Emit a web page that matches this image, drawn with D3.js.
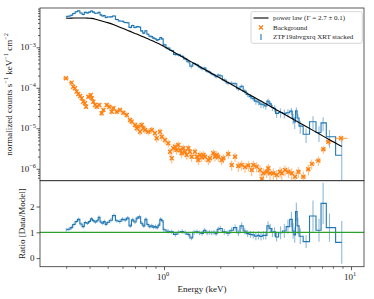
<!DOCTYPE html>
<html>
<head>
<meta charset="utf-8">
<script src="https://cdn.jsdelivr.net/npm/d3@7"></script>
<style>
  body { margin: 0; background: #fff; }
  text { font-family: "Liberation Serif", "DejaVu Serif", serif; fill: #222; }
</style>
</head>
<body>
<svg id="chart" width="374" height="299"></svg>
<script>
// Source spectrum: bin centres (keV), folded model per bin, data/model ratio and its error
const energy = [
  0.30, 0.31, 0.32, 0.33, 0.34, 0.35, 0.36, 0.37, 0.38, 0.39,
  0.40, 0.41, 0.42, 0.43, 0.44, 0.45, 0.46, 0.47, 0.48, 0.49,
  0.50, 0.52, 0.54, 0.56, 0.58, 0.60, 0.62, 0.64, 0.66, 0.68,
  0.70, 0.72, 0.74, 0.76, 0.78, 0.80, 0.82, 0.84, 0.86, 0.88,
  0.90, 0.92, 0.94, 0.96, 0.98, 1.00, 1.05, 1.10, 1.15, 1.20,
  1.25, 1.30, 1.35, 1.40, 1.45, 1.50, 1.55, 1.60, 1.65, 1.70,
  1.75, 1.80, 1.85, 1.90, 1.95, 2.00, 2.1, 2.2, 2.3, 2.4,
  2.5, 2.6, 2.7, 2.8, 2.9, 3.0, 3.1, 3.2, 3.3, 3.4,
  3.5, 3.6, 3.7, 3.8, 3.9, 4.0, 4.2, 4.4, 4.6, 4.8,
  4.9, 5.0, 5.1, 5.2, 5.35, 5.75, 6.26, 6.74, 7.09, 7.67,
  8.92
];
const model = [
  5.20e-3, 5.22e-3, 5.25e-3, 5.27e-3, 5.29e-3, 5.30e-3, 5.30e-3, 5.29e-3, 5.27e-3, 5.24e-3,
  5.20e-3, 5.16e-3, 5.09e-3, 4.93e-3, 4.79e-3, 4.65e-3, 4.52e-3, 4.40e-3, 4.28e-3, 4.17e-3,
  4.06e-3, 3.84e-3, 3.58e-3, 3.34e-3, 3.13e-3, 2.94e-3, 2.77e-3, 2.61e-3, 2.47e-3, 2.33e-3,
  2.20e-3, 2.09e-3, 1.98e-3, 1.88e-3, 1.79e-3, 1.70e-3, 1.62e-3, 1.54e-3, 1.47e-3, 1.40e-3,
  1.33e-3, 1.27e-3, 1.22e-3, 1.16e-3, 1.11e-3, 1.045e-3, 9.20e-4, 8.15e-4, 7.26e-4, 6.50e-4,
  5.85e-4, 5.28e-4, 4.79e-4, 4.36e-4, 3.97e-4, 3.64e-4, 3.34e-4, 3.08e-4, 2.84e-4, 2.63e-4,
  2.44e-4, 2.26e-4, 2.11e-4, 1.97e-4, 1.84e-4, 1.72e-4, 1.52e-4, 1.35e-4, 1.20e-4, 1.07e-4,
  9.64e-5, 8.71e-5, 7.89e-5, 7.18e-5, 6.56e-5, 6.01e-5, 5.51e-5, 5.08e-5, 4.69e-5, 4.34e-5,
  4.02e-5, 3.74e-5, 3.48e-5, 3.25e-5, 3.04e-5, 2.84e-5, 2.51e-5, 2.22e-5, 1.98e-5, 1.77e-5,
  1.68e-5, 1.59e-5, 1.51e-5, 1.44e-5, 1.33e-5, 1.11e-5, 8.87e-6, 7.31e-6, 6.41e-6, 5.22e-6,
  3.53e-6
];
const ratio = [
  1.10, 1.12, 1.18, 1.30, 1.42, 1.50, 1.32, 1.22, 1.38, 1.35,
  1.42, 1.52, 1.45, 1.40, 1.45, 1.58, 1.40, 1.35, 1.42, 1.30,
  1.38, 1.47, 1.65, 1.45, 1.42, 1.50, 1.48, 1.55, 1.25, 1.48,
  1.40, 1.55, 1.60, 1.35, 1.25, 1.50, 1.30, 1.22, 1.25, 1.20,
  1.22, 1.18, 1.28, 1.50, 1.45, 1.10, 1.04, 1.02, 0.92, 1.00,
  1.03, 0.98, 0.92, 0.78, 1.00, 1.02, 0.98, 0.96, 1.08, 0.98,
  1.00, 0.98, 1.00, 0.95, 1.12, 1.15, 1.02, 0.97, 1.08, 1.18,
  0.98, 1.25, 1.05, 0.95, 0.92, 0.90, 0.85, 0.88, 0.84, 0.88,
  0.88, 1.25, 1.15, 1.00, 1.02, 0.82, 0.98, 1.05, 1.22, 1.50,
  1.05, 0.90, 1.80, 1.25, 0.85, 0.64, 1.63, 1.08, 2.12, 1.18,
  0.61
];
const ratioErr = [
  0.07, 0.07, 0.07, 0.07, 0.07, 0.07, 0.07, 0.07, 0.07, 0.07,
  0.07, 0.07, 0.07, 0.07, 0.07, 0.07, 0.07, 0.07, 0.07, 0.07,
  0.07, 0.08, 0.08, 0.08, 0.08, 0.08, 0.08, 0.08, 0.08, 0.08,
  0.08, 0.08, 0.08, 0.08, 0.08, 0.08, 0.08, 0.08, 0.08, 0.08,
  0.08, 0.08, 0.08, 0.08, 0.08, 0.09, 0.09, 0.09, 0.09, 0.09,
  0.09, 0.09, 0.09, 0.09, 0.09, 0.09, 0.09, 0.09, 0.09, 0.09,
  0.09, 0.09, 0.09, 0.09, 0.10, 0.10, 0.12, 0.12, 0.12, 0.12,
  0.12, 0.13, 0.13, 0.13, 0.13, 0.14, 0.16, 0.16, 0.16, 0.16,
  0.16, 0.18, 0.18, 0.18, 0.18, 0.18, 0.25, 0.26, 0.28, 0.30,
  0.30, 0.30, 0.35, 0.32, 0.30, 0.25, 0.60, 0.45, 0.80, 0.55,
  0.83
];

// Background spectrum
const bkgEnergy = [
  0.299, 0.321, 0.327, 0.334, 0.341, 0.348, 0.356, 0.363, 0.370, 0.378,
  0.383, 0.394, 0.406, 0.411, 0.419, 0.428, 0.437, 0.451, 0.464, 0.474,
  0.494, 0.510, 0.525, 0.536, 0.559, 0.582, 0.606, 0.632, 0.658, 0.672,
  0.700, 0.715, 0.729, 0.744, 0.760, 0.775, 0.791, 0.824, 0.860, 0.895,
  0.914, 0.952, 0.972, 1.012, 1.054, 1.077, 1.100, 1.121, 1.145, 1.169,
  1.193, 1.218, 1.243, 1.268, 1.295, 1.323, 1.349, 1.377, 1.406, 1.465,
  1.496, 1.526, 1.557, 1.591, 1.623, 1.657, 1.725, 1.762, 1.835, 1.874,
  1.913, 1.951, 2.035, 2.075, 2.207, 2.301, 2.398, 2.496, 2.603, 2.712,
  2.824, 2.944, 3.003, 3.131, 3.262, 3.331, 3.396, 3.541, 3.613, 3.689,
  3.842, 4.006, 4.173, 4.261, 4.437, 4.621, 4.818, 5.018, 5.226, 5.558,
  5.911, 6.166, 6.685, 7.110, 7.562, 8.843
];
const bkgRate = [
  1.72e-4, 1.34e-4, 1.06e-4, 9.72e-5, 8.02e-5, 7.03e-5, 6.28e-5, 5.51e-5, 4.54e-5, 4.14e-5,
  3.41e-5, 6.03e-5, 6.64e-5, 5.51e-5, 4.54e-5, 3.76e-5, 3.41e-5, 3.76e-5, 2.34e-5, 2.83e-5,
  3.76e-5, 3.41e-5, 2.57e-5, 3.12e-5, 2.57e-5, 2.83e-5, 2.43e-5, 2.13e-5, 1.60e-5, 1.46e-5,
  1.21e-5, 1.00e-5, 1.10e-5, 8.24e-6, 1.21e-5, 1.00e-5, 9.08e-6, 8.24e-6, 9.08e-6, 7.53e-6,
  5.66e-6, 8.24e-6, 6.21e-6, 5.15e-6, 4.27e-6, 2.64e-6, 1.82e-6, 3.21e-6, 3.52e-6, 2.91e-6,
  3.87e-6, 2.91e-6, 2.41e-6, 3.21e-6, 2.64e-6, 2.19e-6, 3.21e-6, 2.64e-6, 1.99e-6, 2.64e-6,
  1.99e-6, 1.65e-6, 2.19e-6, 1.92e-6, 2.19e-6, 1.99e-6, 1.65e-6, 1.82e-6, 2.41e-6, 1.99e-6,
  2.19e-6, 1.99e-6, 1.65e-6, 1.82e-6, 2.32e-6, 1.24e-6, 1.99e-6, 1.17e-6, 1.25e-6, 1.10e-6,
  1.20e-6, 9.33e-7, 1.24e-6, 1.13e-6, 9.33e-7, 5.60e-7, 7.74e-7, 8.48e-7, 1.03e-6, 7.74e-7,
  7.74e-7, 7.03e-7, 8.48e-7, 7.74e-7, 9.33e-7, 8.48e-7, 7.74e-7, 6.38e-7, 8.48e-7, 6.38e-7,
  9.73e-7, 1.32e-6, 1.59e-6, 3.03e-6, 4.67e-6, 5.66e-6
];
const bkgRelErr = [
  0.10, 0.10, 0.10, 0.10, 0.10, 0.11, 0.11, 0.11, 0.12, 0.12,
  0.12, 0.12, 0.12, 0.12, 0.12, 0.13, 0.13, 0.13, 0.14, 0.14,
  0.14, 0.14, 0.15, 0.15, 0.15, 0.15, 0.15, 0.16, 0.17, 0.17,
  0.18, 0.18, 0.18, 0.19, 0.18, 0.18, 0.19, 0.19, 0.19, 0.20,
  0.22, 0.20, 0.21, 0.22, 0.22, 0.24, 0.26, 0.22, 0.22, 0.23,
  0.22, 0.23, 0.24, 0.22, 0.23, 0.24, 0.22, 0.23, 0.25, 0.23,
  0.25, 0.26, 0.24, 0.25, 0.24, 0.25, 0.26, 0.25, 0.24, 0.25,
  0.24, 0.25, 0.26, 0.25, 0.24, 0.28, 0.25, 0.28, 0.28, 0.28,
  0.28, 0.30, 0.28, 0.28, 0.30, 0.35, 0.32, 0.30, 0.28, 0.32,
  0.32, 0.32, 0.30, 0.32, 0.30, 0.30, 0.32, 0.33, 0.30, 0.33,
  0.30, 0.28, 0.26, 0.22, 0.18, 0.18
];

const xTickValues = [1, 10];
const fluxTickValues = [1e-6, 1e-5, 1e-4, 1e-3];
const ratioTickValues = [0, 1, 2];
const legendLabels = ["power law (\u0393 = 2.7 \u00b1 0.1)", "Background", "ZTF19abvgxrq XRT stacked"];

const blue = "#1f77b4", orange = "#ff7f0e", green = "#2ca02c";
const padL = 40, padR = 364, panelTop = 8, panelMid = 180.7, panelBot = 266.7;

const svg = d3.select("#chart");

const x = d3.scaleLog().domain([0.2173, 11.73]).range([padL, padR]);
const yFlux = d3.scaleLog().domain([5.08e-7, 9.33e-3]).range([panelMid, panelTop]);
const yRatio = d3.scaleLinear().domain([-0.333, 3.0]).range([panelBot, panelMid]);

// clip the data to each panel
const defs = svg.append("defs");
defs.append("clipPath").attr("id", "clipTop").append("rect")
  .attr("x", padL).attr("y", panelTop).attr("width", padR - padL).attr("height", panelMid - panelTop);
defs.append("clipPath").attr("id", "clipRatio").append("rect")
  .attr("x", padL).attr("y", panelMid).attr("width", padR - padL).attr("height", panelBot - panelMid);

const bins = energy.map((e, i) => ({
  e: e,
  m: model[i],
  r: ratio[i],
  dr: ratioErr[i],
  flux: model[i] * ratio[i],      // data = model x (data/model)
  dflux: model[i] * ratioErr[i]
}));

const bkg = bkgEnergy.map((e, i) => {
  let lo = i > 0 ? Math.sqrt(bkgEnergy[i - 1] * e) : e;
  let hi = i < bkgEnergy.length - 1 ? Math.sqrt(bkgEnergy[i + 1] * e) : e;
  if (i === 0) lo = e * e / hi;
  if (i === bkgEnergy.length - 1) hi = e * e / lo;
  return { e: e, v: bkgRate[i], dv: bkgRate[i] * bkgRelErr[i], lo: lo, hi: hi };
});

/*
** TOP PANEL
*/
const topG = svg.append("g").attr("clip-path", "url(#clipTop)");
const fluxMin = yFlux.domain()[0];

topG.selectAll(".errTop").data(bins).enter().append("line")
  .attr("x1", d => x(d.e)).attr("x2", d => x(d.e))
  .attr("y1", d => yFlux(Math.max(d.flux - d.dflux, fluxMin)))
  .attr("y2", d => yFlux(d.flux + d.dflux))
  .attr("stroke", blue).attr("stroke-opacity", 0.5).attr("stroke-width", 1.1);

topG.append("path").datum(bins)
  .attr("d", d3.line().x(d => x(d.e)).y(d => yFlux(d.flux)).curve(d3.curveStep))
  .attr("fill", "none").attr("stroke", blue).attr("stroke-width", 1.1);

// background with x and y error bars
const bg = topG.selectAll(".bkg").data(bkg).enter().append("g");
bg.append("line")
  .attr("x1", d => x(d.e)).attr("x2", d => x(d.e))
  .attr("y1", d => yFlux(d.v - d.dv)).attr("y2", d => yFlux(d.v + d.dv))
  .attr("stroke", orange).attr("stroke-opacity", 0.6).attr("stroke-width", 1);
bg.append("line")
  .attr("x1", d => x(d.lo)).attr("x2", d => x(d.hi))
  .attr("y1", d => yFlux(d.v)).attr("y2", d => yFlux(d.v))
  .attr("stroke", orange).attr("stroke-opacity", 0.8).attr("stroke-width", 1);
bg.append("path")
  .attr("d", d => {
    const cx = x(d.e), cy = yFlux(d.v), s = 2;
    return `M${cx - s},${cy - s}L${cx + s},${cy + s}M${cx - s},${cy + s}L${cx + s},${cy - s}`;
  })
  .attr("stroke", orange).attr("stroke-width", 1.3).attr("fill", "none");

topG.append("path").datum(bins)
  .attr("d", d3.line().x(d => x(d.e)).y(d => yFlux(d.m)))
  .attr("fill", "none").attr("stroke", "#000").attr("stroke-width", 1.1);

/*
** RATIO PANEL
*/
const ratG = svg.append("g").attr("clip-path", "url(#clipRatio)");
ratG.selectAll(".errRat").data(bins).enter().append("line")
  .attr("x1", d => x(d.e)).attr("x2", d => x(d.e))
  .attr("y1", d => yRatio(d.r - d.dr)).attr("y2", d => yRatio(d.r + d.dr))
  .attr("stroke", blue).attr("stroke-opacity", 0.5).attr("stroke-width", 1.1);
ratG.append("path").datum(bins)
  .attr("d", d3.line().x(d => x(d.e)).y(d => yRatio(d.r)).curve(d3.curveStep))
  .attr("fill", "none").attr("stroke", blue).attr("stroke-width", 1.1);
ratG.append("line")
  .attr("x1", padL).attr("x2", padR)
  .attr("y1", yRatio(1)).attr("y2", yRatio(1))
  .attr("stroke", green).attr("stroke-width", 1.2);

/*
** AXES
*/
function cleanAxis(g) {
  g.select(".domain").remove();
  g.selectAll(".tick line").attr("stroke", "#333").attr("stroke-width", 0.8);
}
function powLabel(g, px, py, exp, anchor) {
  const t = g.append("text").attr("x", px).attr("y", py)
    .attr("text-anchor", anchor).attr("font-size", 9);
  t.append("tspan").text("10");
  t.append("tspan").attr("dy", -3.8).attr("font-size", 6.3).text(exp);
}

// flux axis
const yMinor = yFlux.ticks().filter(v => Math.abs(Math.log10(v) - Math.round(Math.log10(v))) > 1e-6);
svg.append("g").attr("transform", `translate(${padL},0)`)
  .call(d3.axisLeft(yFlux).tickValues(yMinor).tickSize(2).tickFormat(""))
  .call(cleanAxis);
svg.append("g").attr("transform", `translate(${padL},0)`)
  .call(d3.axisLeft(yFlux).tickValues(fluxTickValues).tickSize(3.5).tickFormat(""))
  .call(cleanAxis);
fluxTickValues.forEach(v => {
  powLabel(svg, 36, yFlux(v) + 3.2, "\u2212" + Math.round(-Math.log10(v)), "end");
});

// ratio axis
svg.append("g").attr("transform", `translate(${padL},0)`)
  .call(d3.axisLeft(yRatio).tickValues(ratioTickValues).tickSize(3.5).tickFormat(""))
  .call(cleanAxis);
ratioTickValues.forEach(v => {
  svg.append("text").attr("x", 34.5).attr("y", yRatio(v) + 3.2)
    .attr("text-anchor", "end").attr("font-size", 9).text(v);
});

// energy axis
const xMinor = x.ticks().filter(v => xTickValues.indexOf(v) < 0);
svg.append("g").attr("transform", `translate(0,${panelBot})`)
  .call(d3.axisBottom(x).tickValues(xMinor).tickSize(2).tickFormat(""))
  .call(cleanAxis);
svg.append("g").attr("transform", `translate(0,${panelBot})`)
  .call(d3.axisBottom(x).tickValues(xTickValues).tickSize(3.5).tickFormat(""))
  .call(cleanAxis);
xTickValues.forEach(v => {
  powLabel(svg, x(v) - 1, 280, String(Math.round(Math.log10(v))), "middle");
});

// frames
svg.append("rect").attr("x", padL).attr("y", panelTop).attr("width", padR - padL).attr("height", panelMid - panelTop)
  .attr("fill", "none").attr("stroke", "#333").attr("stroke-width", 0.8);
svg.append("rect").attr("x", padL).attr("y", panelMid).attr("width", padR - padL).attr("height", panelBot - panelMid)
  .attr("fill", "none").attr("stroke", "#333").attr("stroke-width", 0.8);

// axis titles
const yLab = svg.append("text")
  .attr("transform", `translate(11.5,${(panelTop + panelMid) / 2}) rotate(-90)`)
  .attr("text-anchor", "middle").attr("font-size", 9);
yLab.append("tspan").text("normalized counts s");
yLab.append("tspan").attr("dy", -3.5).attr("font-size", 6.3).text("\u22121");
yLab.append("tspan").attr("dy", 3.5).text(" keV");
yLab.append("tspan").attr("dy", -3.5).attr("font-size", 6.3).text("\u22121");
yLab.append("tspan").attr("dy", 3.5).text(" cm");
yLab.append("tspan").attr("dy", -3.5).attr("font-size", 6.3).text("\u22122");

svg.append("text")
  .attr("transform", `translate(24.5,${(panelMid + panelBot) / 2}) rotate(-90)`)
  .attr("text-anchor", "middle").attr("font-size", 9)
  .text("Ratio [Data/Model]");

svg.append("text").attr("x", (padL + padR) / 2).attr("y", 292)
  .attr("text-anchor", "middle").attr("font-size", 9)
  .text("Energy (keV)");

/*
** LEGEND
*/
const leg = svg.append("g");
leg.append("rect").attr("x", 251).attr("y", 11.7).attr("width", 111.3).attr("height", 31.6)
  .attr("rx", 2).attr("fill", "#fff").attr("fill-opacity", 0.8)
  .attr("stroke", "#ccc").attr("stroke-width", 0.8);
const rowY = [18, 27.5, 37];
leg.append("line").attr("x1", 253.5).attr("x2", 268.5).attr("y1", rowY[0]).attr("y2", rowY[0])
  .attr("stroke", "#000").attr("stroke-width", 1.1);
leg.append("path")
  .attr("d", `M${261 - 2},${rowY[1] - 2}L${261 + 2},${rowY[1] + 2}M${261 - 2},${rowY[1] + 2}L${261 + 2},${rowY[1] - 2}`)
  .attr("stroke", orange).attr("stroke-width", 1.3);
leg.append("line").attr("x1", 261).attr("x2", 261).attr("y1", rowY[2] - 3).attr("y2", rowY[2] + 3)
  .attr("stroke", blue).attr("stroke-width", 1.1);
legendLabels.forEach((t, i) => {
  leg.append("text").attr("x", 273).attr("y", rowY[i] + 2.3).attr("font-size", 7).text(t);
});
</script>
</body>
</html>
